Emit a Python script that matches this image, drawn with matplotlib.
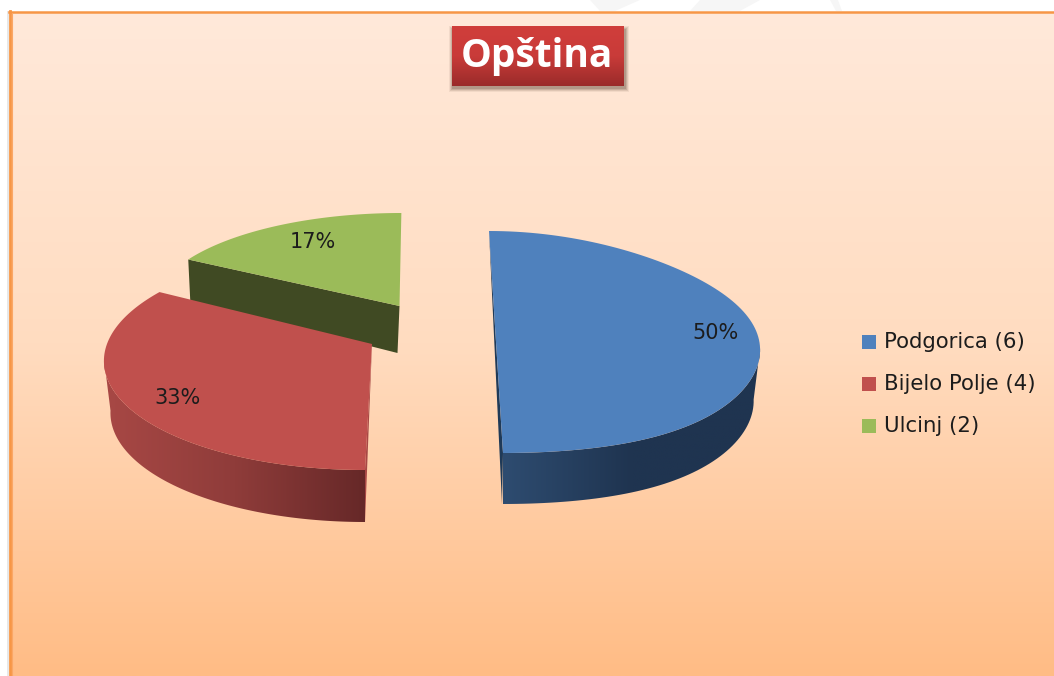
import numpy as np
import matplotlib
matplotlib.use("Agg")
import matplotlib.pyplot as plt
from matplotlib.colors import LinearSegmentedColormap
from matplotlib.patches import Polygon, Rectangle

plt.rcParams['font.family'] = ['DejaVu Sans']

# chart data
title = "Opština"
names = ["Podgorica", "Bijelo Polje", "Ulcinj"]
counts = [6, 4, 2]
colors = ["#4f81bd", "#c0504d", "#9bbb59"]

W, H = 1054, 676
fig = plt.figure(figsize=(W / 100, H / 100), dpi=100)
ax = fig.add_axes([0, 0, 1, 1])
ax.set_axis_off()


def gradient(stops, extent, vertical=False, clip=None, zorder=1):
    cmap = LinearSegmentedColormap.from_list("g", stops)
    g = np.linspace(0, 1, 256)
    g = g.reshape(-1, 1) if vertical else g.reshape(1, -1)
    im = ax.imshow(g, cmap=cmap, extent=extent, origin="upper", aspect="auto",
                   vmin=0, vmax=1, zorder=zorder, interpolation="bilinear")
    if clip is not None:
        im.set_clip_path(clip)
    return im


# page background and chart area
for pts in ([(590, 0), (640, 0), (615, 11), (600, 11)],
            [(700, 0), (760, 0), (740, 11), (690, 11)],
            [(830, 0), (838, 0), (842, 11), (836, 11)]):
    ax.add_patch(Polygon(pts, fc="#f6f6f6", ec="none", zorder=0))
ax.add_patch(Rectangle((7, 11), 2, H, fc="#e8e8e8", ec="none", zorder=0))
gradient(["#ffe9da", "#ffdcc0", "#ffbc85"], (10, W, H, 12), vertical=True)
ax.plot([10, 10], [H, 11], color="#f79646", lw=2.0, zorder=2)
ax.plot([9, W], [12, 12], color="#f79646", lw=1.8, zorder=2)
ax.plot([12.3, 12.3], [14, H], color="#fba766", lw=0.8, zorder=2)

# title box with a soft shadow
for grow, alpha in zip([4, 3, 2, 1], [0.08, 0.12, 0.16, 0.2]):
    ax.add_patch(Rectangle((453 - grow, 30 - grow), 172 + 2 * grow, 58 + 2 * grow,
                           fc="#5a4030", ec="none", alpha=alpha, zorder=2))
gradient(["#d03e3b", "#c93b39", "#9a2b2a"], (452, 624, 86, 26), vertical=True, zorder=3)
ax.text(537, 57, title, color="white", fontsize=28, fontweight="bold",
        ha="center", va="center", family="Open Sans", zorder=4)

# each slice: ellipse sizes in pixels, read off the tilted view
# (ellipse x, ellipse y, half width, half height, shear, edge drop, wall depth, apex y, warp, sag)
views = {
    0: (496, 342, 264, 111, 0.063, 5, 51, 342, 0, 3),
    1: (372, 358, 268, 112, -0.0625, 0, 52, 344, 7, 0),
    2: (399.5, 306, 245, 93, -0.02, 0, 47, 306, 0, 0),
}
# the pie starts at 12 o'clock and runs clockwise
total = sum(counts)
shares = [c / total for c in counts]
starts = 90 - 360 * np.cumsum([0] + shares[:-1])
ends = starts - 360 * np.array(shares)


def arc(view, a0, a1, n=120):
    cx, cy, a, b, sx, drop, depth, apex_y, warp, sag = view
    deg = np.linspace(a0, a1, n)
    t = np.radians(deg + warp * np.sin(2 * np.radians(deg)))
    x = cx + a * np.cos(t) - b * np.sin(t) * sx
    y = cy - b * np.sin(t) + drop * np.cos(t) ** 2 + sag * np.sin(2 * t) ** 2
    return deg, x, y


def wall(x, y, depth, anchor, stops, zorder):
    # lower edge of the wall is pulled in a little towards the front corner
    bx = anchor + (x - anchor) * 0.975
    pts = np.column_stack([np.r_[x, bx[::-1]], np.r_[y, (y + depth)[::-1]]])
    patch = Polygon(pts, closed=True, fc="none", ec="none", transform=ax.transData)
    ax.add_patch(patch)
    gradient(stops, (pts[:, 0].min(), pts[:, 0].max(), pts[:, 1].max(), pts[:, 1].min()),
             clip=patch, zorder=zorder)


# green slice first, it sits at the back
v = views[2]
deg, x, y = arc(v, starts[2], ends[2])
ax.add_patch(Polygon([(x[0], y[0]), (v[0], v[7]), (v[0] - 2, v[7] + v[6]), (x[0] + 2, y[0] + 41)],
                     fc="#404a23", ec="none", zorder=5))
ax.add_patch(Polygon(np.column_stack([np.r_[x, v[0]], np.r_[y, v[7]]]), fc=colors[2], ec="none", zorder=6))

# red slice
v = views[1]
deg, x, y = arc(v, starts[1], ends[1])
vis = deg >= -180
wall(x[vis], y[vis], v[6], x[0], ["#a84845", "#8f3c3a", "#662828"], 7)
ax.add_patch(Polygon([(v[0], v[7]), (x[0], y[0]), (x[0], y[0] + v[6])], fc="#a84845", ec="none", zorder=7))
ax.add_patch(Polygon(np.column_stack([np.r_[x, v[0]], np.r_[y, v[7]]]), fc=colors[1], ec="none", zorder=8))

# blue slice
v = views[0]
deg, x, y = arc(v, starts[0], ends[0])
vis = deg <= 0
wall(x[vis], y[vis], v[6], x[-1], ["#2e4c70", "#1f3450", "#1f3450"], 9)
ax.add_patch(Polygon([(x[0], y[0]), (x[-1], y[-1]), (x[-1] - 1, y[-1] + v[6])], fc="#1f3a58", ec="none", zorder=9))
ax.add_patch(Polygon(np.column_stack([x, y]), fc=colors[0], ec="none", zorder=10))

# percent labels
label_pos = [(715, 333), (178, 398), (313, 242)]
for s, (lx, ly) in zip(shares, label_pos):
    ax.text(lx, ly, f"{round(s * 100)}%", fontsize=15, color="#1c1c1c",
            ha="center", va="center", zorder=12)

# legend
legend_y = [342, 384, 426]
for name, c, col, ly in zip(names, counts, colors, legend_y):
    ax.add_patch(Rectangle((862, ly - 7), 14, 14, fc=col, ec="none", zorder=12))
    ax.text(884, ly, f"{name} ({c})", fontsize=15.3, color="#1c1c1c", va="center", zorder=12)

ax.set_xlim(0, W)
ax.set_ylim(H, 0)
fig.savefig("out.png", dpi=100, facecolor="white")
